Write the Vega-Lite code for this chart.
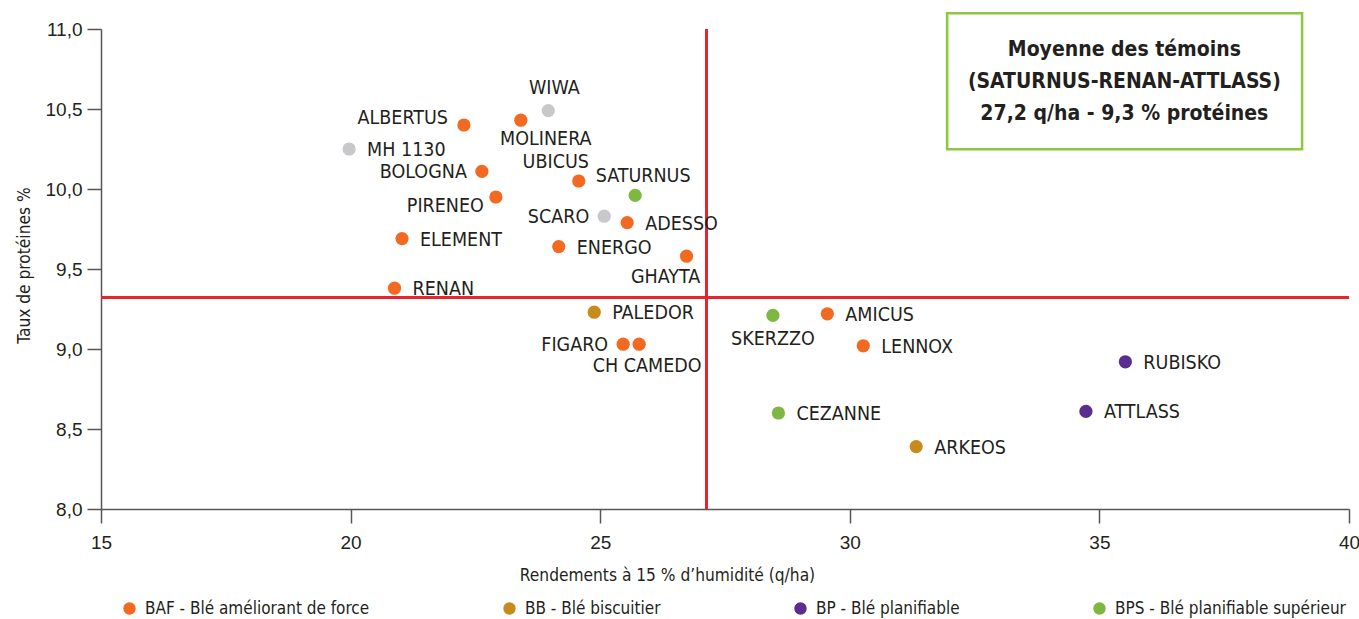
{
  "$schema": "https://vega.github.io/schema/vega-lite/v6.json",
  "width": 1248,
  "height": 480,
  "autosize": {"type": "none"},
  "padding": {"left": 101, "top": 29, "right": 10, "bottom": 110},
  "background": "white",
  "config": {
    "view": {"stroke": null},
    "axis": {
      "grid": false,
      "domainColor": "#555555",
      "domainWidth": 1.5,
      "tickColor": "#555555",
      "tickWidth": 1.5,
      "tickSize": 14,
      "labelFont": "Liberation Sans",
      "labelFontSize": 19,
      "labelColor": "#231F20",
      "labelFlush": false,
      "titleFont": "DejaVu Sans Condensed",
      "titleFontSize": 17.2,
      "titleFontWeight": "normal",
      "titleColor": "#231F20"
    }
  },
  "data": {
    "values": [
      {"name": "MH 1130", "rendement": 19.97, "proteines": 10.25, "type": "Autre"},
      {"name": "ALBERTUS", "rendement": 22.27, "proteines": 10.40, "type": "BAF - Blé améliorant de force"},
      {"name": "MOLINERA", "rendement": 23.41, "proteines": 10.43, "type": "BAF - Blé améliorant de force"},
      {"name": "WIWA", "rendement": 23.96, "proteines": 10.49, "type": "Autre"},
      {"name": "BOLOGNA", "rendement": 22.63, "proteines": 10.11, "type": "BAF - Blé améliorant de force"},
      {"name": "PIRENEO", "rendement": 22.91, "proteines": 9.95, "type": "BAF - Blé améliorant de force"},
      {"name": "UBICUS", "rendement": 24.57, "proteines": 10.05, "type": "BAF - Blé améliorant de force"},
      {"name": "SATURNUS", "rendement": 25.70, "proteines": 9.96, "type": "BPS - Blé planifiable supérieur"},
      {"name": "SCARO", "rendement": 25.08, "proteines": 9.83, "type": "Autre"},
      {"name": "ADESSO", "rendement": 25.54, "proteines": 9.79, "type": "BAF - Blé améliorant de force"},
      {"name": "ELEMENT", "rendement": 21.03, "proteines": 9.69, "type": "BAF - Blé améliorant de force"},
      {"name": "ENERGO", "rendement": 24.17, "proteines": 9.64, "type": "BAF - Blé améliorant de force"},
      {"name": "GHAYTA", "rendement": 26.73, "proteines": 9.58, "type": "BAF - Blé améliorant de force"},
      {"name": "RENAN", "rendement": 20.88, "proteines": 9.38, "type": "BAF - Blé améliorant de force"},
      {"name": "PALEDOR", "rendement": 24.88, "proteines": 9.23, "type": "BB - Blé biscuitier"},
      {"name": "FIGARO", "rendement": 25.46, "proteines": 9.03, "type": "BAF - Blé améliorant de force"},
      {"name": "CH CAMEDO", "rendement": 25.78, "proteines": 9.03, "type": "BAF - Blé améliorant de force"},
      {"name": "SKERZZO", "rendement": 28.46, "proteines": 9.21, "type": "BPS - Blé planifiable supérieur"},
      {"name": "AMICUS", "rendement": 29.55, "proteines": 9.22, "type": "BAF - Blé améliorant de force"},
      {"name": "LENNOX", "rendement": 30.27, "proteines": 9.02, "type": "BAF - Blé améliorant de force"},
      {"name": "RUBISKO", "rendement": 35.52, "proteines": 8.92, "type": "BP - Blé planifiable"},
      {"name": "ATTLASS", "rendement": 34.73, "proteines": 8.61, "type": "BP - Blé planifiable"},
      {"name": "CEZANNE", "rendement": 28.57, "proteines": 8.60, "type": "BPS - Blé planifiable supérieur"},
      {"name": "ARKEOS", "rendement": 31.33, "proteines": 8.39, "type": "BB - Blé biscuitier"}
    ]
  },
  "encoding": {
    "x": {
      "field": "rendement", "type": "quantitative",
      "scale": {"domain": [15, 40], "nice": false, "zero": false},
      "axis": {"values": [15, 20, 25, 30, 35, 40], "format": "d", "labelPadding": 10,
               "title": "Rendements à 15 % d’humidité (q/ha)",
               "titleX": 566, "titleY": 71, "titleAlign": "center", "titleBaseline": "alphabetic", "titleAnchor": null}
    },
    "y": {
      "field": "proteines", "type": "quantitative",
      "scale": {"domain": [8, 11], "nice": false, "zero": false},
      "axis": {"values": [8, 8.5, 9, 9.5, 10, 10.5, 11], "labelExpr": "replace(format(datum.value, '.1f'), '.', ',')",
               "labelPadding": 5, "title": "Taux de protéines %",
               "titleX": -72, "titleY": 236, "titleAngle": -90, "titleAlign": "center", "titleBaseline": "alphabetic", "titleAnchor": null}
    }
  },
  "layer": [
    {
      "mark": {"type": "rule", "color": "#E8252D", "strokeWidth": 2},
      "encoding": {"x": {"datum": 27.13}, "y": null}
    },
    {
      "mark": {"type": "rule", "color": "#E8252D", "strokeWidth": 2},
      "encoding": {"y": {"datum": 9.32}, "x": null}
    },
    {
      "mark": {"type": "circle", "size": 175, "opacity": 1},
      "encoding": {
        "color": {
          "field": "type", "type": "nominal",
          "scale": {
            "domain": ["BAF - Blé améliorant de force", "BB - Blé biscuitier", "BP - Blé planifiable", "BPS - Blé planifiable supérieur", "Autre"],
            "range": ["#F26A21", "#C68B1C", "#5C2D91", "#7DB843", "#C8C8CA"]
          },
          "legend": {
            "values": ["BAF - Blé améliorant de force", "BB - Blé biscuitier", "BP - Blé planifiable", "BPS - Blé planifiable supérieur"],
            "title": null,
            "orient": "none",
            "direction": "horizontal",
            "columns": 4,
            "gridAlign": "none",
            "columnPadding": 131,
            "legendX": 20,
            "legendY": 571,
            "padding": 0,
            "symbolType": "circle",
            "symbolSize": 154,
            "symbolStrokeWidth": 0,
            "labelOffset": 7,
            "labelFont": "DejaVu Sans Condensed",
            "labelFontSize": 17,
            "labelColor": "#231F20",
            "labelLimit": 400
          }
        }
      }
    },
    {
      "transform": [{"filter": {"field": "name", "oneOf": ["MH 1130", "ADESSO", "ELEMENT", "ENERGO", "RENAN", "PALEDOR", "AMICUS", "LENNOX", "RUBISKO", "ATTLASS", "CEZANNE", "ARKEOS"]}}],
      "mark": {"type": "text", "align": "left", "baseline": "middle", "dx": 18, "dy": 1, "font": "DejaVu Sans Condensed", "fontSize": 19.5, "color": "#231F20"},
      "encoding": {"text": {"field": "name"}}
    },
    {
      "transform": [{"filter": {"field": "name", "oneOf": ["BOLOGNA", "SCARO", "FIGARO"]}}],
      "mark": {"type": "text", "align": "right", "baseline": "middle", "dx": -15, "dy": 1, "font": "DejaVu Sans Condensed", "fontSize": 19.5, "color": "#231F20"},
      "encoding": {"text": {"field": "name"}}
    },
    {
      "transform": [{"filter": {"field": "name", "equal": "ALBERTUS"}}],
      "mark": {"type": "text", "align": "right", "baseline": "middle", "dx": -16, "dy": -7, "font": "DejaVu Sans Condensed", "fontSize": 19.5, "color": "#231F20"},
      "encoding": {"text": {"field": "name"}}
    },
    {
      "transform": [{"filter": {"field": "name", "equal": "PIRENEO"}}],
      "mark": {"type": "text", "align": "right", "baseline": "middle", "dx": -12, "dy": 9, "font": "DejaVu Sans Condensed", "fontSize": 19.5, "color": "#231F20"},
      "encoding": {"text": {"field": "name"}}
    },
    {
      "transform": [{"filter": {"field": "name", "equal": "MOLINERA"}}],
      "mark": {"type": "text", "align": "center", "baseline": "middle", "dx": 25, "dy": 19, "font": "DejaVu Sans Condensed", "fontSize": 19.5, "color": "#231F20"},
      "encoding": {"text": {"field": "name"}}
    },
    {
      "transform": [{"filter": {"field": "name", "equal": "WIWA"}}],
      "mark": {"type": "text", "align": "center", "baseline": "middle", "dx": 6, "dy": -23, "font": "DejaVu Sans Condensed", "fontSize": 19.5, "color": "#231F20"},
      "encoding": {"text": {"field": "name"}}
    },
    {
      "transform": [{"filter": {"field": "name", "equal": "UBICUS"}}],
      "mark": {"type": "text", "align": "center", "baseline": "middle", "dx": -23, "dy": -19, "font": "DejaVu Sans Condensed", "fontSize": 19.5, "color": "#231F20"},
      "encoding": {"text": {"field": "name"}}
    },
    {
      "transform": [{"filter": {"field": "name", "equal": "SATURNUS"}}],
      "mark": {"type": "text", "align": "center", "baseline": "middle", "dx": 8, "dy": -19, "font": "DejaVu Sans Condensed", "fontSize": 19.5, "color": "#231F20"},
      "encoding": {"text": {"field": "name"}}
    },
    {
      "transform": [{"filter": {"field": "name", "equal": "GHAYTA"}}],
      "mark": {"type": "text", "align": "center", "baseline": "middle", "dx": -21, "dy": 21, "font": "DejaVu Sans Condensed", "fontSize": 19.5, "color": "#231F20"},
      "encoding": {"text": {"field": "name"}}
    },
    {
      "transform": [{"filter": {"field": "name", "equal": "CH CAMEDO"}}],
      "mark": {"type": "text", "align": "center", "baseline": "middle", "dx": 8, "dy": 22, "font": "DejaVu Sans Condensed", "fontSize": 19.5, "color": "#231F20"},
      "encoding": {"text": {"field": "name"}}
    },
    {
      "transform": [{"filter": {"field": "name", "equal": "SKERZZO"}}],
      "mark": {"type": "text", "align": "center", "baseline": "middle", "dx": 0, "dy": 24, "font": "DejaVu Sans Condensed", "fontSize": 19.5, "color": "#231F20"},
      "encoding": {"text": {"field": "name"}}
    },
    {
      "data": {"values": [{"x1": 31.95, "x2": 39.06, "y1": 10.248, "y2": 11.098}]},
      "mark": {"type": "rect", "fill": "white", "stroke": "#8DC63F", "strokeWidth": 2.5},
      "encoding": {
        "x": {"field": "x1", "type": "quantitative"},
        "x2": {"field": "x2"},
        "y": {"field": "y1", "type": "quantitative"},
        "y2": {"field": "y2"}
      }
    },
    {
      "data": {"values": [{"x": 35.5, "y": 10.87}]},
      "mark": {
        "type": "text",
        "text": ["Moyenne des témoins", "(SATURNUS-RENAN-ATTLASS)", "27,2 q/ha - 9,3 % protéines"],
        "align": "center", "baseline": "middle", "lineHeight": 32,
        "font": "DejaVu Sans Condensed", "fontSize": 21, "fontWeight": "bold", "color": "#231F20"
      },
      "encoding": {
        "x": {"field": "x", "type": "quantitative"},
        "y": {"field": "y", "type": "quantitative"}
      }
    }
  ]
}
